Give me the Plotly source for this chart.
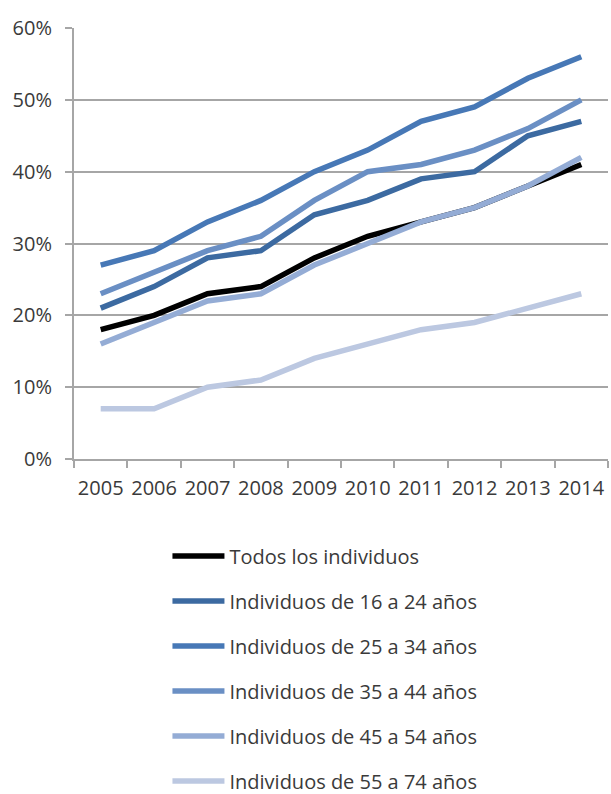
import plotly.graph_objects as go

years = ["2005", "2006", "2007", "2008", "2009", "2010", "2011", "2012", "2013", "2014"]
series_names = [
    "Todos los individuos",
    "Individuos de 16 a 24 años",
    "Individuos de 25 a 34 años",
    "Individuos de 35 a 44 años",
    "Individuos de 45 a 54 años",
    "Individuos de 55 a 74 años",
]
todos = [18, 20, 23, 24, 28, 31, 33, 35, 38, 41]
ind_16_24 = [21, 24, 28, 29, 34, 36, 39, 40, 45, 47]
ind_25_34 = [27, 29, 33, 36, 40, 43, 47, 49, 53, 56]
ind_35_44 = [23, 26, 29, 31, 36, 40, 41, 43, 46, 50]
ind_45_54 = [16, 19, 22, 23, 27, 30, 33, 35, 38, 42]
ind_55_74 = [7, 7, 10, 11, 14, 16, 18, 19, 21, 23]
y_ticks = [0, 10, 20, 30, 40, 50, 60]
y_ticklabels = ["0%", "10%", "20%", "30%", "40%", "50%", "60%"]

colors = ["#000000", "#3c6aa1", "#4778b6", "#6a8fc4", "#94acd5", "#bcc8e1"]
values = [todos, ind_16_24, ind_25_34, ind_35_44, ind_45_54, ind_55_74]

FONT = "Open Sans, sans-serif"
TXT = "#3a3a3a"
GRID = "#a6a6a6"

fig = go.Figure()
for i, (name, vals, col) in enumerate(zip(series_names, values, colors)):
    fig.add_trace(go.Scatter(
        x=years, y=vals, name=name, mode="lines",
        line=dict(color=col, width=5.5),
        legendgroup=f"g{i}",
    ))

fig.update_layout(
    width=611, height=794,
    margin=dict(l=74, r=3, t=28, b=335, autoexpand=False),
    paper_bgcolor="white", plot_bgcolor="white",
    font=dict(family=FONT, color=TXT, size=20),
    showlegend=True,
    legend=dict(
        x=0.175, xanchor="left", y=-0.18, yanchor="top",
        orientation="v", font=dict(size=20, family=FONT, color=TXT),
        itemwidth=52, tracegroupgap=16, bgcolor="rgba(0,0,0,0)",
    ),
    xaxis=dict(
        type="category", range=[-0.5, len(years) - 0.5],
        tickson="boundaries", ticks="outside", ticklen=7,
        tickwidth=2, tickcolor=GRID, showgrid=False, showline=True,
        linecolor=GRID, linewidth=2, tickfont=dict(size=20), zeroline=False,
        tickangle=0, automargin=False, ticklabelstandoff=10,
    ),
    yaxis=dict(
        range=[0, 60], tickvals=y_ticks, ticktext=y_ticklabels,
        ticks="outside", ticklen=7, tickwidth=2, tickcolor=GRID,
        showgrid=True, gridcolor=GRID, gridwidth=2, showline=True,
        linecolor=GRID, linewidth=2, zeroline=False, tickfont=dict(size=20),
        ticklabelstandoff=9, automargin=False,
    ),
)

fig.write_html("out.html", config={"displayModeBar": False},
               post_script="document.body.style.margin='0';")
